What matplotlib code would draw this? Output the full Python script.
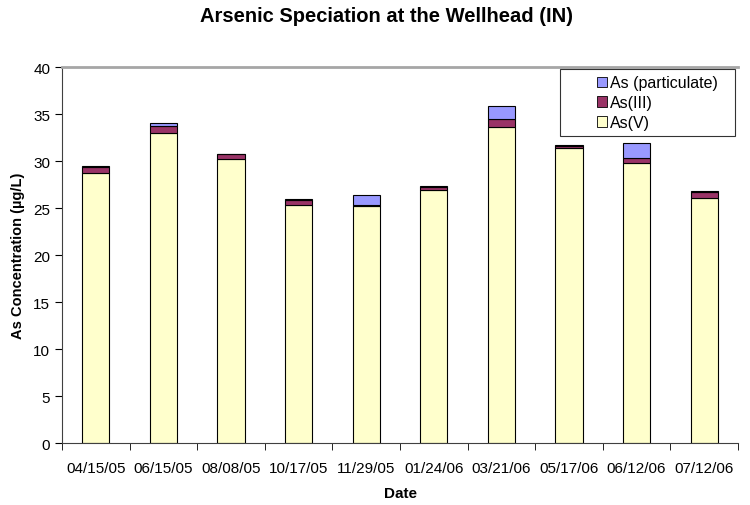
import matplotlib
matplotlib.use("Agg")
import matplotlib.pyplot as plt
from matplotlib.legend_handler import HandlerBase
from matplotlib.patches import Patch, Rectangle
import numpy as np

plt.rcParams["font.family"] = ["Liberation Sans", "DejaVu Sans"]

dates = ["04/15/05", "06/15/05", "08/08/05", "10/17/05", "11/29/05",
         "01/24/06", "03/21/06", "05/17/06", "06/12/06", "07/12/06"]
as_v = [28.7, 33.0, 30.2, 25.3, 25.2, 26.9, 33.6, 31.4, 29.8, 26.1]
as_iii = [0.7, 0.7, 0.5, 0.6, 0.1, 0.3, 0.9, 0.2, 0.5, 0.6]
as_part = [0.1, 0.3, 0.1, 0.1, 1.1, 0.1, 1.4, 0.1, 1.6, 0.1]

col_v, col_iii, col_part = "#FFFFCC", "#993366", "#9999FF"


class RightSquare(HandlerBase):
    # excel-style legend key: small square pushed to the right of the handle box
    def create_artists(self, legend, orig, xdescent, ydescent, width, height, fontsize, trans):
        s = 0.65 * fontsize
        r = Rectangle((width - xdescent - s, (height - s) / 2 - ydescent), s, s,
                      facecolor=orig.get_facecolor(), edgecolor="black", linewidth=0.6,
                      transform=trans)
        return [r]


fig = plt.figure(figsize=(7.5, 5.06), dpi=100)
ax = fig.add_axes([0.0827, 0.1225, 0.9013, 0.743])

x = np.arange(len(dates))
w = 0.40
v = np.array(as_v)
iii = np.array(as_iii)
ax.bar(x, as_v, w, color=col_v, edgecolor="black", linewidth=0.8)
ax.bar(x, as_iii, w, bottom=v, color=col_iii, edgecolor="black", linewidth=0.8)
ax.bar(x, as_part, w, bottom=v + iii, color=col_part, edgecolor="black", linewidth=0.8)

ax.set_xlim(-0.5, len(dates) - 0.5)
ax.set_ylim(0, 40)
ax.set_yticks(range(0, 41, 5))
ax.set_xticks(x)
ax.set_xticklabels(dates, fontsize=11)
ax.tick_params(axis="x", length=0, pad=13)
ax.set_xticks(np.arange(-0.5, len(dates), 1), minor=True)
ax.tick_params(axis="x", which="minor", length=5, direction="out")
ax.tick_params(axis="y", labelsize=11, length=5, direction="out")
ax.spines["right"].set_visible(False)
ax.spines["top"].set_color("#A6A6A6")
ax.spines["top"].set_linewidth(2)
for s in ["left", "bottom"]:
    ax.spines[s].set_color("#404040")

ax.set_xlabel("Date", fontsize=11, fontweight="bold", labelpad=8)
ax.set_ylabel("As Concentration (\u00b5g/L)", fontsize=10.5, fontweight="bold", labelpad=6)
fig.text(0.515, 0.968, "Arsenic Speciation at the Wellhead (IN)", fontsize=14.5,
         fontweight="bold", ha="center", va="center")

handles = [Patch(facecolor=c) for c in (col_part, col_iii, col_v)]
labels = ["As (particulate)", "As(III)", "As(V)"]
leg = ax.legend(handles, labels, loc="upper left", mode="expand",
                bbox_to_anchor=(0.7367, 0.0, 0.2589, 0.995),
                handler_map={Patch: RightSquare()},
                fontsize=11.5, frameon=True, fancybox=False, handlelength=2.55,
                handletextpad=0.2, labelspacing=0.3, borderpad=0.4, borderaxespad=0)
leg.get_frame().set_edgecolor("black")
leg.get_frame().set_linewidth(0.8)

fig.savefig("out.png", dpi=100)
